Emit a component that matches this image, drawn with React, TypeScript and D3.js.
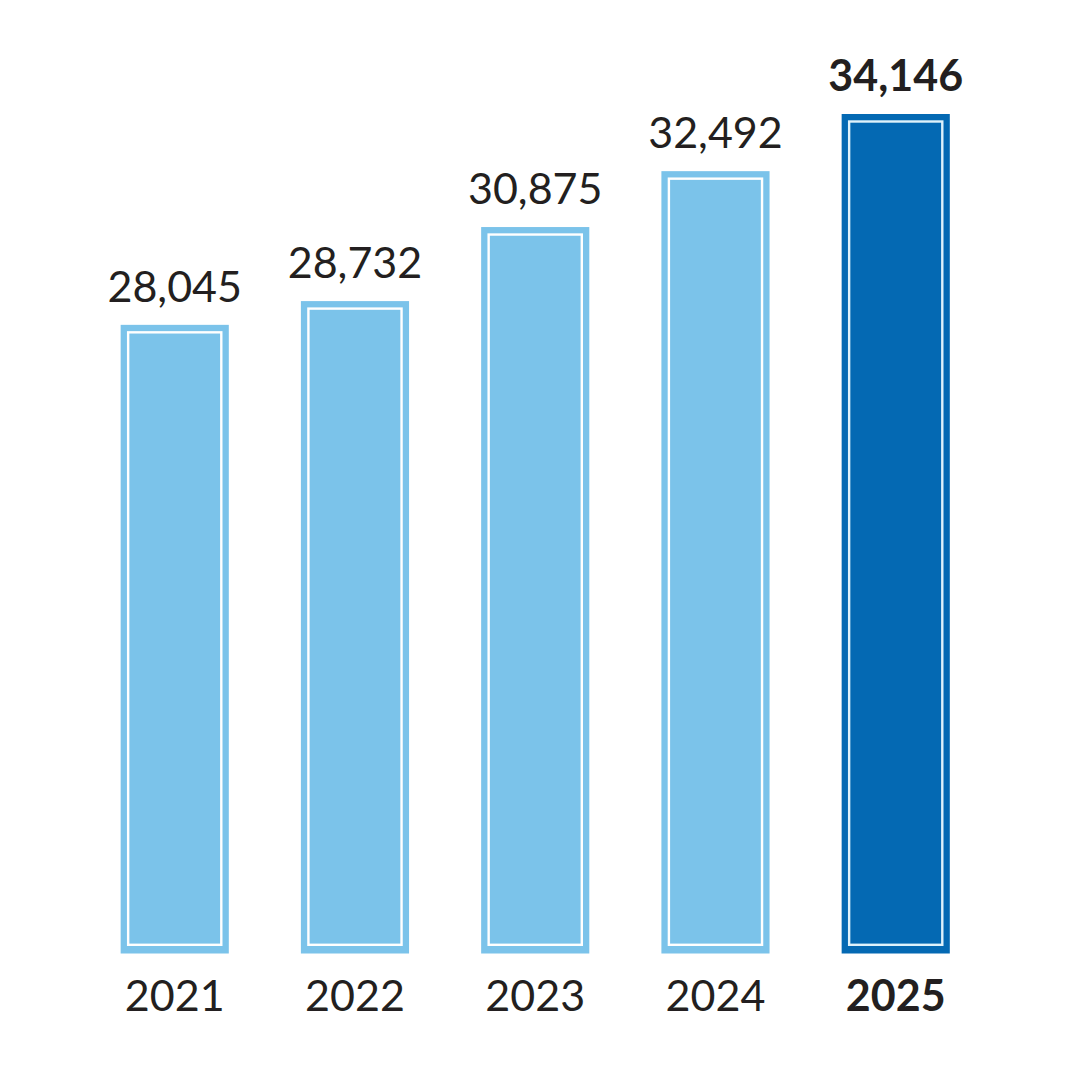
import React from "react";
import * as d3 from "d3";

const years = ["2021", "2022", "2023", "2024", "2025"];
const values = [28045, 28732, 30875, 32492, 34146];
const highlight = ["2025"];

const W = 1080;
const H = 1080;

export default function App() {
  const x = d3
    .scaleBand<string>()
    .domain(years)
    .range([84.6, 985.85])
    .paddingInner(0.4)
    .paddingOuter(0.2);
  const y = d3.scaleLinear().domain([9854, 34146]).range([953.5, 114]);
  const fmt = d3.format(",");
  const light = "#7BC3EA";
  const dark = "#0469B3";
  const textColor = "#231F20";
  const inset = 7.5;

  return (
    <svg
      width={W}
      height={H}
      style={{ position: "absolute", left: 0, top: 0, background: "#fff" }}
      fontFamily="Lato, 'Open Sans', sans-serif"
    >
      <rect width={W} height={H} fill="#ffffff" />
      {years.map((yr, i) => {
        const bx = x(yr)!;
        const bw = x.bandwidth();
        const top = y(values[i]);
        const bottom = y(9854);
        const hl = highlight.includes(yr);
        return (
          <g key={yr}>
            <rect x={bx} y={top} width={bw} height={bottom - top} fill={hl ? dark : light} />
            <rect
              x={bx + inset}
              y={top + inset}
              width={bw - 2 * inset}
              height={bottom - top - inset - 8.7}
              fill="none"
              stroke={hl ? "#dff2fb" : "#ffffff"}
              strokeWidth={2.4}
            />
            <text
              x={bx + bw / 2}
              y={top - 23}
              textAnchor="middle"
              fontSize={43}
              fontWeight={hl ? 700 : 400}
              fill={textColor}
            >
              {fmt(values[i])}
            </text>
            <text
              x={bx + bw / 2}
              y={1011}
              textAnchor="middle"
              fontSize={43}
              fontWeight={hl ? 700 : 400}
              fill={textColor}
            >
              {yr}
            </text>
          </g>
        );
      })}
    </svg>
  );
}
